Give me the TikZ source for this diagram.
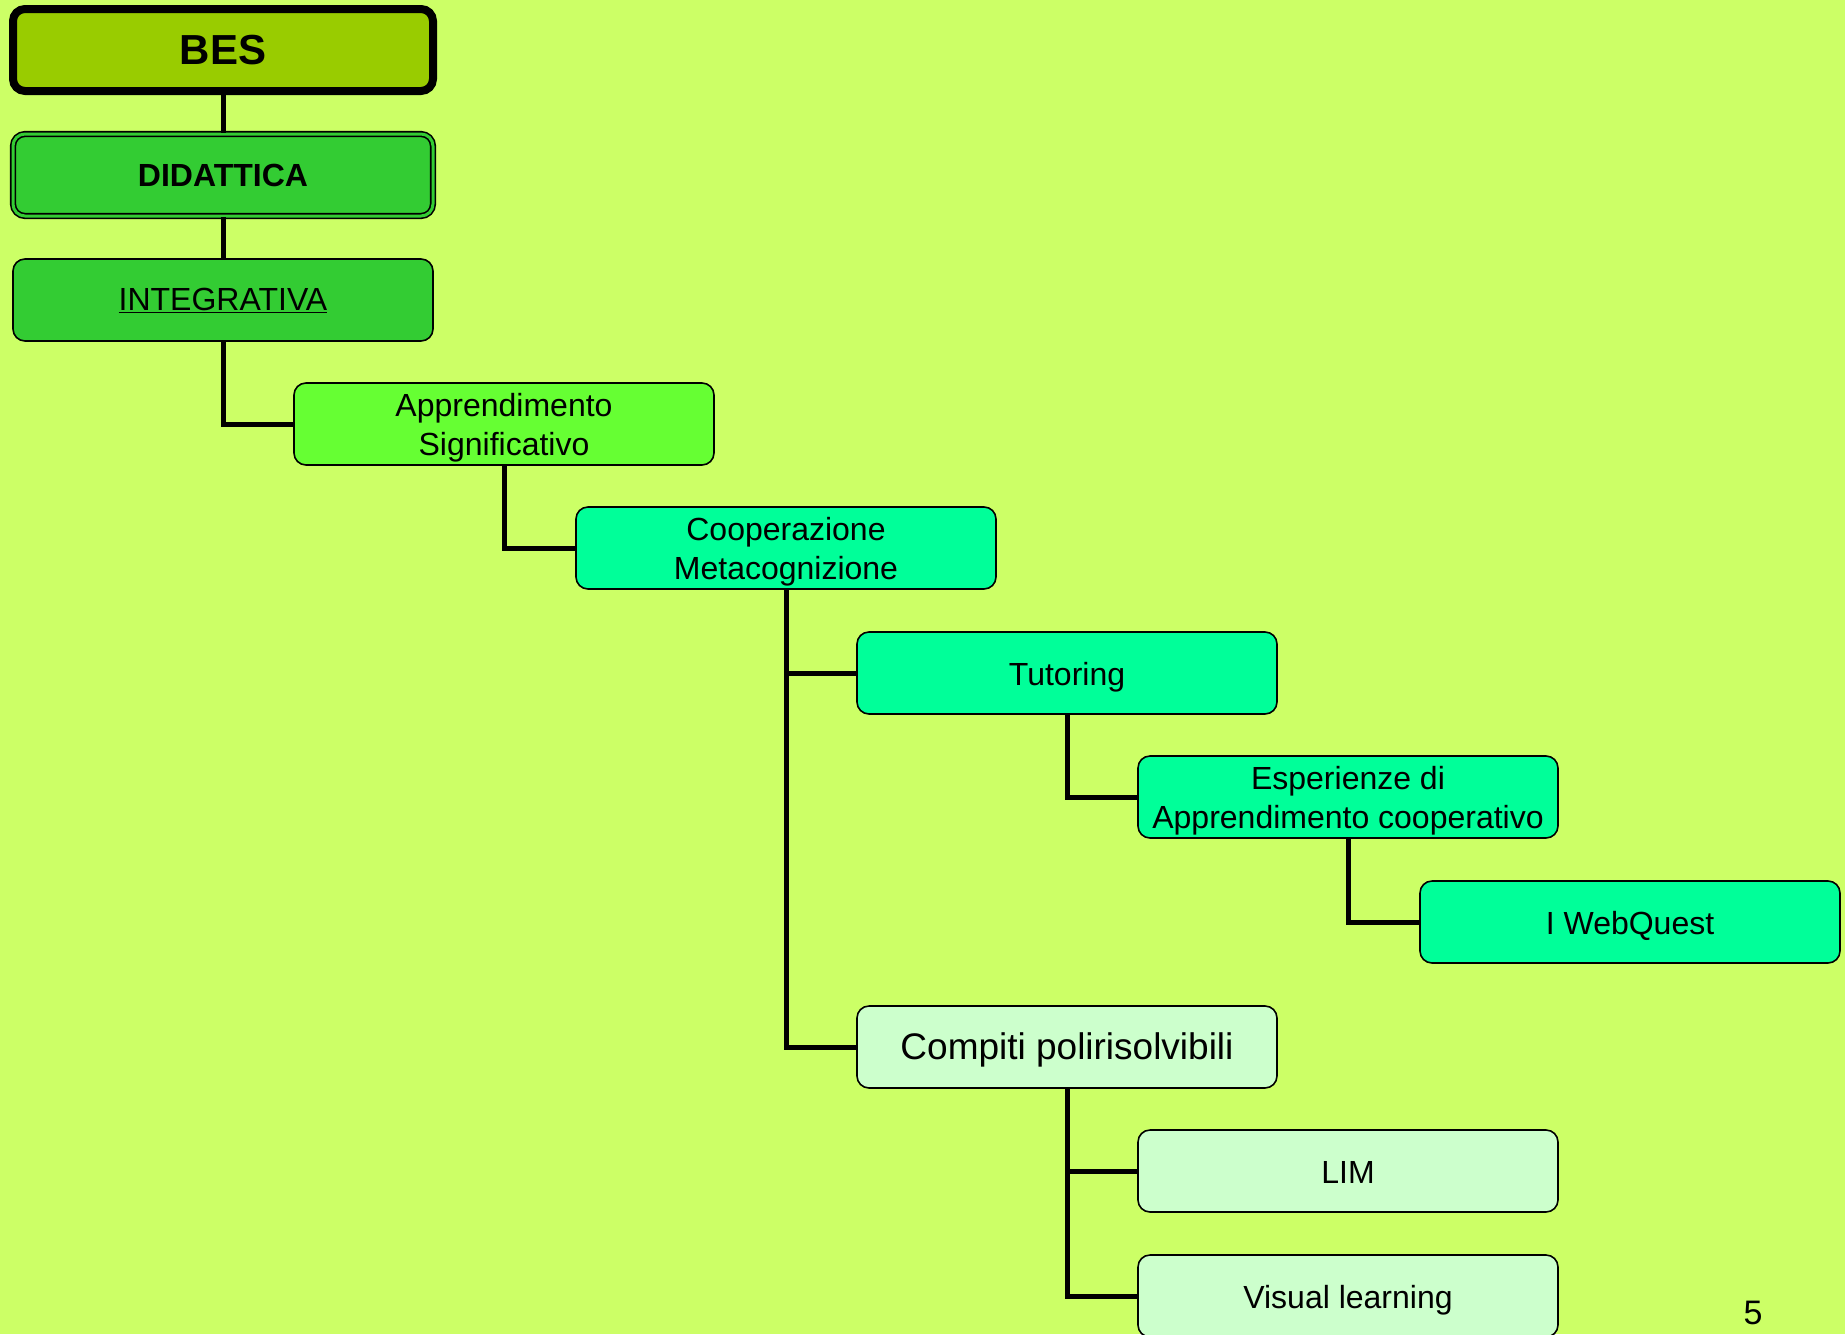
\documentclass[tikz,border=0pt]{standalone}
\usepackage{fontspec}
\setmainfont{Liberation Sans}
\usetikzlibrary{positioning}

\definecolor{slidebg}{HTML}{CCFF66}
\definecolor{olivegreen}{HTML}{99CC00}
\definecolor{midgreen}{HTML}{33CC33}
\definecolor{brightgreen}{HTML}{66FF33}
\definecolor{seagreen}{HTML}{00FF99}
\definecolor{palegreen}{HTML}{CCFFCC}

\newcommand{\tallstrut}{\rule{0pt}{31pt}}

\tikzstyle{box}=[draw,line width=1.6pt,rounded corners=12pt,minimum width=420pt,minimum height=82pt,inner sep=0pt,align=center,font=\fontsize{32}{39}\selectfont]
\tikzstyle{oneline}=[box,text height=25pt,text depth=0pt]
\tikzstyle{rootbox}=[box,fill=olivegreen,line width=8pt,font=\fontsize{42}{48}\selectfont\bfseries]
\tikzstyle{doublebox}=[box,fill=midgreen,line width=1.6pt,double=midgreen,double distance=3pt,font=\fontsize{32}{38}\selectfont\bfseries]
\tikzstyle{link}=[draw,line width=5pt,-]

\begin{document}
\begin{tikzpicture}[x=1pt, y=-1pt]
    % background of the slide
    \useasboundingbox (0,0) rectangle (1845,1334);
    \fill[slidebg] (0,0) rectangle (1845,1334);
    \clip (0,0) rectangle (1845,1334);
    % First the boxes
    \node[rootbox] (bes) at (223,50) {BES};
    \node[doublebox] (did) at (223,175) {DIDATTICA};
    \node[box,fill=midgreen] (integ) at (223,300) {\underline{INTEGRATIVA}};
    \node[box,fill=brightgreen] (appr) at (504,424) {\tallstrut Apprendimento\\Significativo};
    \node[box,fill=seagreen] (coop) at (786,548) {\tallstrut Cooperazione\\Metacognizione};
    \node[oneline,fill=seagreen] (tutor) at (1067,673) {Tutoring};
    \node[box,fill=seagreen] (esper) at (1348,797) {\tallstrut Esperienze di\\Apprendimento cooperativo};
    \node[oneline,fill=seagreen] (webq) at (1630,922) {I WebQuest};
    \node[oneline,fill=palegreen,font=\fontsize{37}{44}\selectfont,text height=24pt] (compiti) at (1067,1047) {Compiti polirisolvibili};
    \node[oneline,fill=palegreen] (lim) at (1348,1171) {LIM};
    \node[oneline,fill=palegreen] (visual) at (1348,1296) {Visual learning};
    \node[font=\fontsize{34}{40}\selectfont] (pagenum) at (1753,1313) {5};
    % Connect the boxes
    \foreach \source/\dest in {bes/did, did/integ}
        \path[link] (\source.south) -- (\dest.north);
    \foreach \source/\dest in {integ/appr, appr/coop, coop/tutor, tutor/esper, esper/webq, coop/compiti, compiti/lim, compiti/visual}
        \path[link] (\source.south) |- (\dest.west);
\end{tikzpicture}
\end{document}
